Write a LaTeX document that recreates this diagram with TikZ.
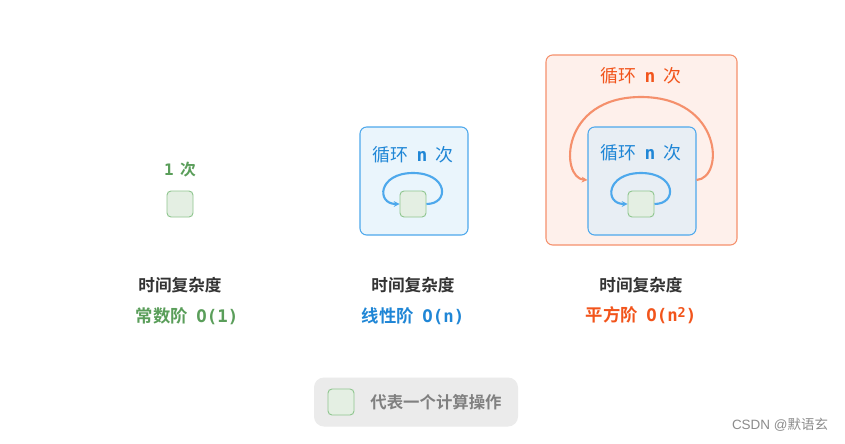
\documentclass[tikz,border=0pt]{standalone}
\usepackage{fontspec}
\setmainfont{Noto Sans CJK SC}[BoldFont={Noto Sans CJK SC Bold}]
\newfontfamily\codefont{DejaVu Sans Mono}
\newfontfamily\markfont{Liberation Sans}
\usetikzlibrary{arrows.meta}

\definecolor{opgreen}{HTML}{5A9E5A}
\definecolor{opfill}{HTML}{E4EFE3}
\definecolor{opline}{HTML}{8FC68F}
\definecolor{loopblue}{HTML}{1F86D6}
\definecolor{bluebox}{HTML}{EAF5FC}
\definecolor{blueline}{HTML}{4DA8EC}
\definecolor{innerbox}{HTML}{E8EEF4}
\definecolor{looporange}{HTML}{F2541B}
\definecolor{orangebox}{HTML}{FEF0EB}
\definecolor{orangeline}{HTML}{F5906C}
\definecolor{legendbg}{HTML}{EBEBEB}

\newcommand{\loopn}{循环\hspace{0.45em}{\codefont\bfseries n}\hspace{0.45em}次}

\tikzset{
  opbox/.style={draw=opline, fill=opfill, line width=0.8pt, rounded corners=0.12cm,
    minimum size=0.78cm, inner sep=0pt},
  loopbox/.style={rounded corners=0.2cm, line width=0.9pt, inner sep=0pt},
  title/.style={font=\fontsize{14.2}{16}\selectfont\bfseries, text=black!80},
  order/.style={font=\fontsize{14.8}{17}\selectfont\bfseries},
  looplabel/.style={font=\fontsize{15.3}{18}\selectfont},
  looparrow/.style={line width=1.8pt, -{Stealth[length=5pt,width=5pt]}}
}

\begin{document}
\begin{tikzpicture}[x=0.03cm, y=-0.03cm]
    \useasboundingbox[fill=white] (0,0) rectangle (845,443);

    % constant
    \node[font=\fontsize{13.5}{16}\selectfont\bfseries, text=opgreen] (onceLabel) at (180,170) {{\codefont 1}\hspace{0.4em}次};
    \node[opbox] (opOne) at (180,204) {};

    % linear
    \node[loopbox, draw=blueline, fill=bluebox, minimum size=3.24cm] (linBox) at (414,181) {};
    \node[looplabel, text=loopblue] (linLabel) at (413,155) {\loopn};
    \node[opbox] (opLin) at (413,204) {};
    \draw[looparrow, blueline] (opLin.east) .. controls (450,204) and (448,173) .. (413,173)
        .. controls (378,173) and (376,204) .. (opLin.west);

    % quadratic
    \node[loopbox, draw=orangeline, fill=orangebox, minimum width=5.73cm, minimum height=5.7cm] (quadBox) at (641.5,150) {};
    \node[looplabel, text=looporange] (outerLabel) at (641,76) {\loopn};
    \node[loopbox, draw=blueline, fill=innerbox, minimum size=3.24cm] (innerBox) at (642,181) {};
    \node[looplabel, text=loopblue] (innerLabel) at (641,153) {\loopn};
    \node[opbox] (opQuad) at (641,204) {};
    \draw[looparrow, blueline] (opQuad.east) .. controls (678,204) and (676,173) .. (641,173)
        .. controls (606,173) and (604,204) .. (opQuad.west);
    \draw[looparrow, orangeline] (innerBox.east |- 0,180) .. controls (725,178) and (722,97) .. (641,97)
        .. controls (560,97) and (560,178) .. (innerBox.west |- 0,180);

    % labels
    \node[title] (tOne) at (180,285) {时间复杂度};
    \node[title] (tLin) at (413,285) {时间复杂度};
    \node[title] (tQuad) at (641,285) {时间复杂度};
    \node[order, text=opgreen] (oOne) at (187,316) {常数阶\hspace{0.5em}{\codefont O(1)}};
    \node[order, text=loopblue] (oLin) at (413,316) {线性阶\hspace{0.5em}{\codefont O(n)}};
    \node[order, text=looporange] (oQuad) at (641,315) {平方阶\hspace{0.5em}{\codefont O(n\raisebox{0.45ex}{\fontsize{11.5}{12}\selectfont 2})}};

    % legend
    \node[fill=legendbg, rounded corners=0.3cm, minimum width=6.12cm, minimum height=1.47cm] (legend) at (416,402) {};
    \node[opbox] (opKey) at (341,402) {};
    \node[font=\fontsize{14}{16}\selectfont\bfseries, text=black!50] (keyText) at (436,402) {代表一个计算操作};

    \node[font=\fontsize{11.5}{13}\selectfont, text=black!45] (mark) at (780,425) {{\markfont CSDN @}默语玄};
\end{tikzpicture}
\end{document}
